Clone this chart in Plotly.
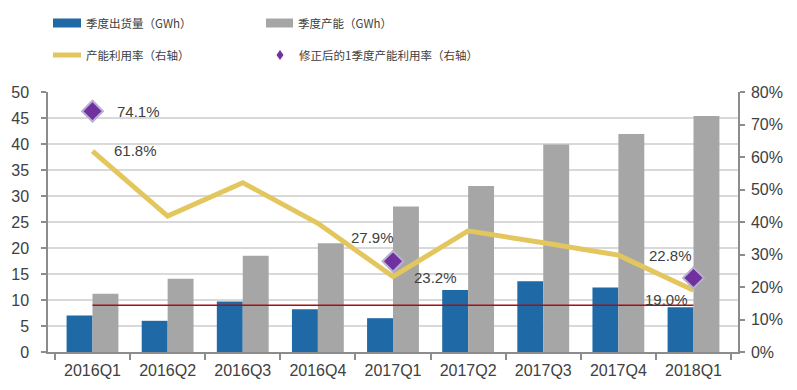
import plotly.graph_objects as go

categories = ["2016Q1", "2016Q2", "2016Q3", "2016Q4", "2017Q1", "2017Q2", "2017Q3", "2017Q4", "2018Q1"]
shipments = [7.0, 6.0, 9.7, 8.2, 6.5, 11.9, 13.6, 12.4, 8.6]
capacity = [11.2, 14.1, 18.5, 20.9, 28.0, 31.9, 39.9, 41.9, 45.4]
utilization = [0.618, 0.418, 0.521, 0.396, 0.232, 0.373, 0.336, 0.298, 0.190]
corrected_q1 = [0.741, None, None, None, 0.279, None, None, None, 0.228]
REF_LEVEL = 9.0

left_ticks = [0, 5, 10, 15, 20, 25, 30, 35, 40, 45, 50]
right_ticks = [0, 0.1, 0.2, 0.3, 0.4, 0.5, 0.6, 0.7, 0.8]

BLUE = "#1F69A6"
GRAY = "#A6A6A6"
YELLOW = "#E3C75E"
PURPLE = "#7030A0"
RED = "#A50F15"
TXT = "#404040"
AX = "#8C8C8C"

# plot area in page pixels (page has 8px body margin)
PL, PR, PT, PB = 48, 738, 92, 352

fig = go.Figure()
fig.add_trace(go.Bar(x=categories, y=shipments, name="季度出货量（GWh）",
                     marker=dict(color=BLUE, line=dict(width=0)), showlegend=False))
fig.add_trace(go.Bar(x=categories, y=capacity, name="季度产能（GWh）",
                     marker=dict(color=GRAY, line=dict(width=0)), showlegend=False))
fig.add_trace(go.Scatter(x=[categories[0], categories[-1]], y=[REF_LEVEL, REF_LEVEL], mode="lines",
                         line=dict(color=RED, width=1.5), showlegend=False, hoverinfo="skip"))
fig.add_trace(go.Scatter(x=categories, y=utilization, name="产能利用率（右轴）", yaxis="y2",
                         mode="lines", line=dict(color=YELLOW, width=5), showlegend=False))
fig.add_trace(go.Scatter(x=categories, y=corrected_q1, name="修正后的1季度产能利用率（右轴）", yaxis="y2",
                         mode="markers", marker=dict(symbol="diamond", size=16, color=PURPLE,
                                                     line=dict(color="#B9AECF", width=2)),
                         showlegend=False))

annotations = []
lab_font = dict(family="Liberation Sans, Arial, sans-serif", size=15, color=TXT)
corr_offsets = {0: (22, 0, "left"), 4: (-21, 24, "center"), 8: (-23, 22, "center")}
for i, (dx, dy, xa) in corr_offsets.items():
    v = corrected_q1[i]
    annotations.append(dict(x=categories[i], y=v, xref="x", yref="y2", text=f"{v*100:.1f}%",
                            showarrow=False, xshift=dx, yshift=dy, xanchor=xa, font=lab_font))
util_offsets = {0: (19, 1, "left"), 4: (19, -1, "left"), 8: (-27, -9, "center")}
for i, (dx, dy, xa) in util_offsets.items():
    v = utilization[i]
    annotations.append(dict(x=categories[i], y=v, xref="x", yref="y2", text=f"{v*100:.1f}%",
                            showarrow=False, xshift=dx, yshift=dy, xanchor=xa, font=lab_font))

# manual legend (page pixel -> paper coords)
leg_font = dict(family="Noto Sans CJK SC, sans-serif", size=11.5, color=TXT)
shapes = []
def px_x(p):
    return (p - PL) / (PR - PL)
def px_y(p):
    return (PB - p) / (PB - PT)
legend_items = [
    ("rect", BLUE, 53, 81, 23, "季度出货量（GWh）", 84),
    ("rect", GRAY, 266, 293, 23, "季度产能（GWh）", 296),
    ("line", YELLOW, 53, 81, 55, "产能利用率（右轴）", 84),
    ("diamond", PURPLE, 280, 280, 55, "修正后的1季度产能利用率（右轴）", 297),
]
for kind, col, x0, x1, yc, text, tx in legend_items:
    if kind == "rect":
        shapes.append(dict(type="rect", xref="paper", yref="paper", x0=px_x(x0), x1=px_x(x1),
                           y0=px_y(yc + 4.5), y1=px_y(yc - 4.5), fillcolor=col, line=dict(width=0)))
    elif kind == "line":
        shapes.append(dict(type="line", xref="paper", yref="paper", x0=px_x(x0), x1=px_x(x1),
                           y0=px_y(yc), y1=px_y(yc), line=dict(color=col, width=5)))
    else:
        shapes.append(dict(type="path", xref="paper", yref="paper",
                           path=f"M {px_x(x0)} {px_y(yc-5)} L {px_x(x0+3.5)} {px_y(yc)} L {px_x(x0)} {px_y(yc+5)} L {px_x(x0-3.5)} {px_y(yc)} Z",
                           fillcolor=col, line=dict(width=0)))
    annotations.append(dict(x=px_x(tx), y=px_y(yc), xref="paper", yref="paper", text=text,
                            showarrow=False, xanchor="left", yanchor="middle", font=leg_font))

tick_font = dict(family="Liberation Sans, Arial, sans-serif", size=16, color=TXT)
fig.update_layout(
    width=797 - 8, height=390 - 8,
    margin=dict(l=PL - 8, r=797 - PR, t=PT - 8, b=390 - PB, autoexpand=False),
    paper_bgcolor="white", plot_bgcolor="white",
    barmode="group", bargap=0.31, bargroupgap=0,
    showlegend=False,
    xaxis=dict(type="category", categoryorder="array", categoryarray=categories,
               showline=True, linecolor=AX, linewidth=1.5, ticks="outside", tickson="boundaries",
               ticklen=6, tickcolor=AX, tickwidth=1.5, tickfont=tick_font, showgrid=False,
               ticklabelstandoff=3, automargin=False),
    yaxis=dict(range=[0, 50], tickvals=left_ticks, showline=True, linecolor=AX, linewidth=1.5,
               ticks="outside", ticklen=5, tickcolor=AX, tickwidth=1.5, tickfont=tick_font,
               showgrid=True, gridcolor="#D9D9D9", gridwidth=2, zeroline=False,
               ticklabelstandoff=9, automargin=False),
    yaxis2=dict(range=[0, 0.8], tickvals=right_ticks, tickformat=".0%", overlaying="y", side="right",
                showline=True, linecolor=AX, linewidth=1.5, ticks="outside", ticklen=5, tickcolor=AX,
                tickwidth=1.5, tickfont=tick_font, showgrid=False, zeroline=False,
                ticklabelstandoff=3, automargin=False),
    annotations=annotations,
    shapes=shapes,
)

fig.write_html("out.html")
